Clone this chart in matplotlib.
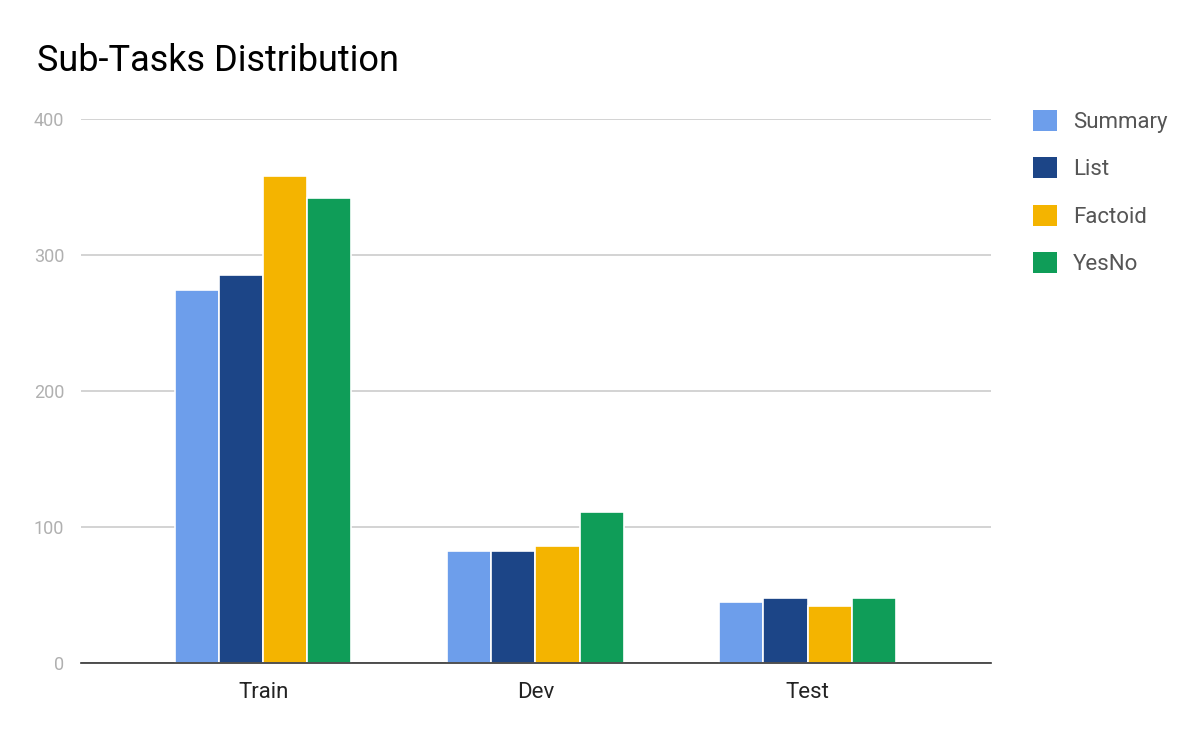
import numpy as np
import matplotlib.pyplot as plt
from matplotlib.patches import Patch

plt.rcParams['font.family'] = ['Roboto', 'DejaVu Sans']

splits = ['Train', 'Dev', 'Test']
tasks = ['Summary', 'List', 'Factoid', 'YesNo']
summary = [274, 82, 45]
list_q = [285, 82, 48]
factoid = [358, 86, 42]
yesno = [342, 111, 48]
colors = ['#6d9eeb', '#1c4587', '#f4b400', '#0f9d58']

fig = plt.figure(figsize=(12, 7.42), dpi=100)
ax = fig.add_axes([0.0675, 0.1065, 0.7585, 0.7331])

x = np.arange(len(splits))
w = 0.162
for i, (vals, c) in enumerate(zip([summary, list_q, factoid, yesno], colors)):
    ax.bar(x + (i - 1.5) * w, vals, width=w, color=c, edgecolor='white', linewidth=1.2, zorder=3)

ax.set_xlim(-0.67, 2.675)
ax.set_ylim(0, 400)
ax.set_yticks([0, 100, 200, 300, 400])
ax.grid(axis='y', color='#cccccc', linewidth=1.2, zorder=0)
ax.set_xticks(x)
ax.set_xticklabels(splits, fontsize=16, color='#222222')
ax.tick_params(axis='both', length=0)
ax.tick_params(axis='y', labelsize=13, labelcolor='#b0b0b0', pad=12)
ax.tick_params(axis='x', pad=14)
for s in ['top', 'right', 'left']:
    ax.spines[s].set_visible(False)
ax.spines['bottom'].set_color('#333333')
ax.spines['bottom'].set_linewidth(1.2)
ax.spines['bottom'].set_zorder(4)

fig.text(0.031, 0.918, 'Sub-Tasks Distribution', fontsize=26, color='#000000', va='center')

handles = [Patch(facecolor=c, edgecolor='none') for c in colors]
fig.legend(handles, tasks, loc='upper left', bbox_to_anchor=(0.844, 0.879), frameon=False,
           fontsize=16, labelcolor='#555555', handlelength=1.08, handleheight=1.08,
           labelspacing=1.1, handletextpad=0.72)

plt.savefig('out.png', dpi=100)
